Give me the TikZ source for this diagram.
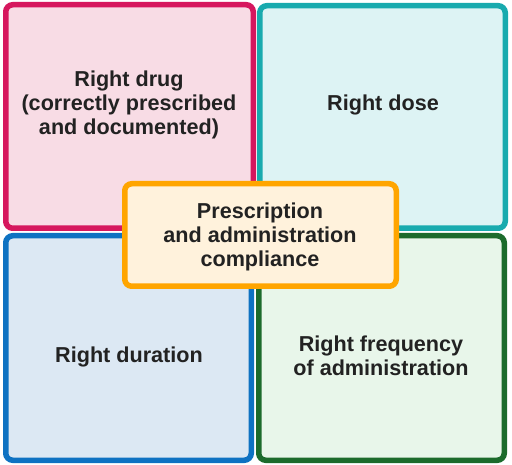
\documentclass[tikz,border=0pt]{standalone}
\usepackage{fontspec}
\setmainfont{Liberation Sans}
\definecolor{cRed}{HTML}{D6175E}
\definecolor{fRed}{HTML}{F8DCE5}
\definecolor{cTeal}{HTML}{18AAAE}
\definecolor{fTeal}{HTML}{DDF3F4}
\definecolor{cBlue}{HTML}{0E72C2}
\definecolor{fBlue}{HTML}{DCE8F3}
\definecolor{cGreen}{HTML}{1C6B2C}
\definecolor{fGreen}{HTML}{E8F6EA}
\definecolor{cOrange}{HTML}{FFA500}
\definecolor{fOrange}{HTML}{FFF2DC}
\definecolor{txt}{HTML}{222222}
\tikzset{
  quad/.style={line width=5.5pt, rounded corners=7pt},
  lbl/.style={align=center, text=txt, font=\fontsize{21.6}{24}\selectfont\bfseries, inner sep=0pt}
}
\begin{document}
\begin{tikzpicture}[x=1pt,y=-1pt]
\useasboundingbox (0,0) rectangle (512,465);
\fill[white] (0,0) rectangle (512,465);
\draw[quad, draw=cRed, fill=fRed] (5.75,4.75) rectangle (253.25,228.25);
\draw[quad, draw=cTeal, fill=fTeal] (259.75,5.75) rectangle (505.25,228.25);
\draw[quad, draw=cBlue, fill=fBlue] (5.75,235.75) rectangle (251.25,460.25);
\draw[quad, draw=cGreen, fill=fGreen] (258.75,235.75) rectangle (504.25,460.25);
\draw[quad, draw=cOrange, fill=fOrange] (124.75,183.75) rectangle (396.25,286.25);
\node[lbl] (drug) at (129,105) {Right drug\\(correctly prescribed\\and documented)};
\node[lbl] (dose) at (383,105) {Right dose};
\node[lbl] (dur) at (129,357) {Right duration};
\node[lbl] (freq) at (381,356) {Right frequency\\of administration};
\node[lbl] (comp) at (260,237) {Prescription\\and administration\\compliance};
\end{tikzpicture}
\end{document}
